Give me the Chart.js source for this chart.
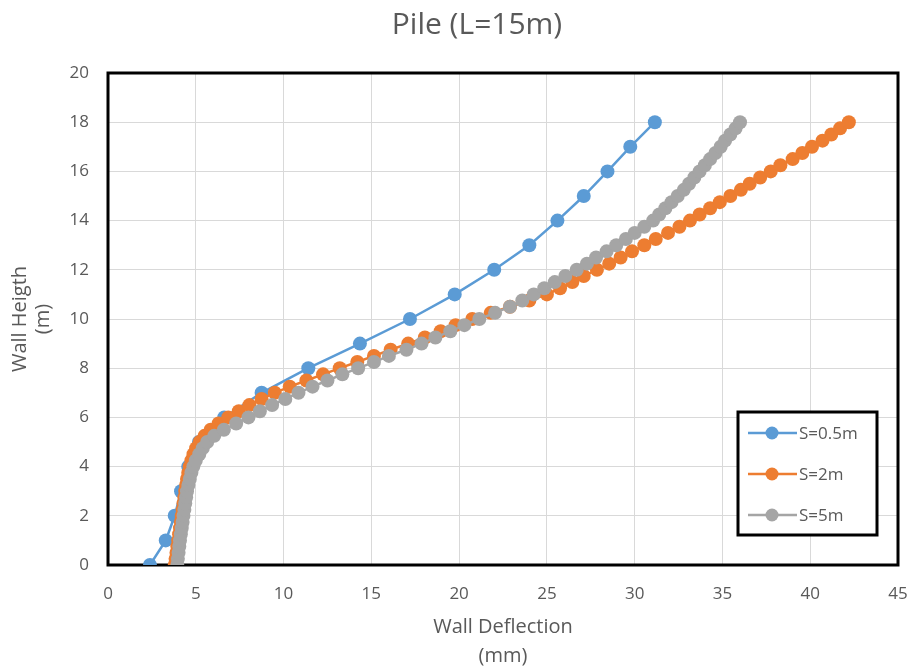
<!DOCTYPE html>
<html>
<head>
<meta charset="utf-8">
<title>Pile (L=15m)</title>
<script src="https://cdn.jsdelivr.net/npm/chart.js@4.4.1/dist/chart.umd.min.js"></script>
<style>
  html, body { margin: 0; padding: 0; background: #fff; }
  #wrap { width: 914px; height: 671px; }
</style>
</head>
<body>
<div id="wrap"><canvas id="pileChart" width="914" height="671"></canvas></div>
<script>
// --- Data (wall height in m, deflection in mm) ---
const chartTitle = 'Pile (L=15m)';
const seriesLabels = ['S=0.5m', 'S=2m', 'S=5m'];
const seriesColors = ['#5B9BD5', '#ED7D31', '#A5A5A5'];

const heightS05 = [0, 1, 2, 3, 4, 5, 6, 7, 8, 9, 10, 11, 12, 13, 14, 15, 16, 17, 18];
const deflS05 = [2.39, 3.29, 3.8, 4.16, 4.57, 5.18, 6.62, 8.75, 11.41, 14.35, 17.2, 19.75, 22.0, 24.0, 25.6, 27.1, 28.45, 29.75, 31.15];

const heightFine = [
  0, 0.25, 0.5, 0.75, 1, 1.25, 1.5, 1.75, 2, 2.25, 2.5, 2.75, 3, 3.25, 3.5, 3.75,
  4, 4.25, 4.5, 4.75, 5, 5.25, 5.5, 5.75, 6, 6.25, 6.5, 6.75, 7, 7.25, 7.5, 7.75,
  8, 8.25, 8.5, 8.75, 9, 9.25, 9.5, 9.75, 10, 10.25, 10.5, 10.75, 11, 11.25, 11.5, 11.75,
  12, 12.25, 12.5, 12.75, 13, 13.25, 13.5, 13.75, 14, 14.25, 14.5, 14.75, 15, 15.25, 15.5, 15.75,
  16, 16.25, 16.5, 16.75, 17, 17.25, 17.5, 17.75, 18
];
const deflS2 = [
  3.8, 3.85, 3.9, 3.95, 4.0, 4.05, 4.1, 4.15, 4.2, 4.25, 4.3, 4.35, 4.4, 4.45, 4.5, 4.57,
  4.65, 4.75, 4.87, 5.02, 5.22, 5.5, 5.85, 6.3, 6.85, 7.45, 8.05, 8.75, 9.5, 10.35, 11.3, 12.25,
  13.2, 14.2, 15.15, 16.1, 17.1, 18.05, 18.95, 19.8, 20.75, 21.8, 22.9, 24.0, 25.0, 25.75, 26.45, 27.1,
  27.85, 28.55, 29.2, 29.85, 30.55, 31.2, 31.9, 32.55, 33.15, 33.7, 34.3, 34.85, 35.45, 36.05, 36.55, 37.15,
  37.75, 38.3, 39.0, 39.55, 40.1, 40.7, 41.2, 41.7, 42.2
];
const deflS5 = [
  3.95, 3.98, 4.02, 4.06, 4.1, 4.15, 4.2, 4.25, 4.3, 4.35, 4.4, 4.45, 4.5, 4.58, 4.66, 4.75,
  4.86, 5.0, 5.2, 5.4, 5.65, 6.05, 6.6, 7.3, 8.0, 8.65, 9.35, 10.1, 10.85, 11.65, 12.5, 13.35,
  14.25, 15.15, 16.0, 17.0, 17.86, 18.65, 19.5, 20.3, 21.15, 22.05, 22.9, 23.6, 24.25, 24.85, 25.45, 26.05,
  26.7, 27.28, 27.8, 28.4, 28.95, 29.5, 30.0, 30.55, 31.05, 31.4, 31.75, 32.1, 32.45, 32.8, 33.1, 33.4,
  33.7, 34.0, 34.3, 34.6, 34.9, 35.15, 35.45, 35.75, 36.0
];

const toPoints = (xs, ys) => xs.map((x, i) => ({ x: x, y: ys[i] }));

const textColor = '#595959';
const fontFamily = '"Open Sans", sans-serif';

// title, centred a little right of the canvas middle like the original
const titlePlugin = {
    id: 'chartTitle',
    afterDraw(chart) {
        const { ctx } = chart;
        ctx.save();
        ctx.fillStyle = textColor;
        ctx.font = '30px ' + fontFamily;
        ctx.textAlign = 'center';
        ctx.textBaseline = 'middle';
        ctx.fillText(chartTitle, 477, 25);
        ctx.restore();
    }
};

// black frame round the plot area (under the markers)
const framePlugin = {
    id: 'frame',
    beforeDatasetsDraw(chart) {
        const { ctx, chartArea: a } = chart;
        ctx.save();
        ctx.strokeStyle = '#000';
        ctx.lineWidth = 3;
        ctx.strokeRect(a.left, a.top, a.right - a.left, a.bottom - a.top);
        ctx.restore();
    }
};

// boxed legend inside the plot, bottom right
const boxLegendPlugin = {
    id: 'boxLegend',
    afterDatasetsDraw(chart) {
        const { ctx, chartArea: a } = chart;
        const w = 139, h = 123;
        const x0 = a.right - 21 - w, y0 = a.bottom - 30 - h;
        ctx.save();
        ctx.fillStyle = '#fff';
        ctx.fillRect(x0, y0, w, h);
        ctx.strokeStyle = '#000';
        ctx.lineWidth = 3;
        ctx.strokeRect(x0, y0, w, h);
        ctx.font = '17px ' + fontFamily;
        ctx.textBaseline = 'middle';
        chart.data.datasets.forEach((ds, i) => {
            const y = y0 + 21 + i * 41;
            ctx.strokeStyle = ds.borderColor;
            ctx.lineWidth = 2.5;
            ctx.beginPath();
            ctx.moveTo(x0 + 10, y);
            ctx.lineTo(x0 + 59, y);
            ctx.stroke();
            ctx.fillStyle = ds.backgroundColor;
            ctx.beginPath();
            ctx.arc(x0 + 34, y, 6.5, 0, Math.PI * 2);
            ctx.fill();
            ctx.fillStyle = textColor;
            ctx.fillText(ds.label, x0 + 61, y + 1);
        });
        ctx.restore();
    }
};

const ctx = document.getElementById('pileChart').getContext('2d');
new Chart(ctx, {
    type: 'scatter',
    data: {
        datasets: [
            { label: seriesLabels[0], data: toPoints(deflS05, heightS05), order: 2 },
            { label: seriesLabels[1], data: toPoints(deflS2, heightFine), order: 1 },
            { label: seriesLabels[2], data: toPoints(deflS5, heightFine), order: 0 }
        ].map((ds, i) => Object.assign(ds, {
            showLine: true,
            borderColor: seriesColors[i],
            backgroundColor: seriesColors[i],
            borderWidth: 2.5,
            pointRadius: 7,
            pointBorderWidth: 0,
            tension: 0
        }))
    },
    options: {
        responsive: false,
        animation: false,
        layout: { padding: { left: 0, right: 16, top: 73, bottom: 0 } },
        plugins: {
            legend: { display: false },
            tooltip: { enabled: false },
            title: { display: false }
        },
        scales: {
            x: {
                type: 'linear',
                min: 0, max: 45,
                afterFit: (scale) => { scale.height = 106; },
                // labels pushed down by an invisible tick mark, so the small padding
                // does not eat into the right side of the plot
                ticks: { stepSize: 5, padding: 5, color: textColor, font: { family: fontFamily, size: 17 } },
                grid: { color: '#d9d9d9', lineWidth: 1, drawTicks: true, tickLength: 14, tickColor: 'rgba(0,0,0,0)' },
                border: { display: false },
                title: {
                    display: true,
                    text: ['Wall Deflection', '(mm)'],
                    color: textColor,
                    font: { family: fontFamily, size: 20, lineHeight: 1.45 },
                    padding: { top: 0, bottom: 0.5 }
                }
            },
            y: {
                type: 'linear',
                min: 0, max: 20,
                afterFit: (scale) => { scale.width = 108; },
                ticks: { stepSize: 2, padding: 19, color: textColor, font: { family: fontFamily, size: 17 } },
                grid: { color: '#d9d9d9', lineWidth: 1, drawTicks: false },
                border: { display: false },
                title: {
                    display: true,
                    text: ['Wall Heigth', '(m)'],
                    color: textColor,
                    font: { family: fontFamily, size: 20, lineHeight: 1.15 },
                    padding: { top: 8.5, bottom: 0 }
                }
            }
        }
    },
    plugins: [framePlugin, boxLegendPlugin, titlePlugin]
});
</script>
</body>
</html>
